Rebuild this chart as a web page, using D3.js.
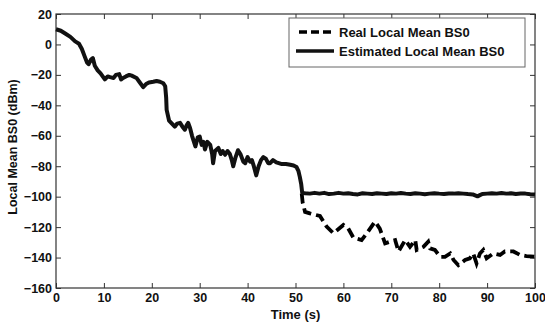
<!DOCTYPE html>
<html>
<head>
<meta charset="utf-8">
<script src="https://cdn.jsdelivr.net/npm/d3@7"></script>
<style>
  body { margin: 0; background: #fff; }
  text { font-family: "Liberation Sans", Arial, sans-serif; font-weight: bold; fill: #111; }
</style>
</head>
<body>
<div id="chart"></div>
<script>
// estimated local mean (solid)
const estT = [0, 1, 2, 3, 4, 4.8, 5.4, 6, 6.5, 6.8, 7.3, 7.7, 8.1, 8.7, 9.3, 10.2, 10.8, 11.3, 12, 12.5,
  13.2, 13.6, 14, 14.6, 15.3, 15.8, 16.8, 17.5, 18.2, 18.8, 19.4, 20.3, 21, 21.7, 22.4, 22.8, 23, 23.1, 23.6, 24.2,
  24.8, 25.3, 25.9, 26.4, 26.9, 27.3, 27.6, 28, 28.4, 28.8, 29.1, 29.6, 30, 30.4, 30.8, 31.1, 31.6, 32.2, 32.6, 32.8,
  33.2, 33.9, 34.4, 34.8, 35.3, 35.8, 36.3, 36.7, 37, 37.5, 38, 38.5, 39.1, 39.5, 40, 40.5, 40.9, 41.3, 41.8, 42.3,
  42.8, 43.3, 43.8, 44.3, 44.7, 45.3, 46, 47, 48, 48.9, 49.6, 50.2, 50.6, 50.9, 51.2, 51.4, 52,
  53, 54, 55, 56, 57, 58, 59, 60, 61, 62, 63, 64, 65, 66, 67, 68, 69, 70, 71, 72, 73, 74, 75, 76, 77, 78, 79, 80,
  81, 82, 83, 84, 85, 86, 87, 88, 88.5, 89, 90, 91, 92, 93, 94, 95, 96, 97, 98, 99, 100];
const estV = [10, 9, 7, 5, 2, 0.5, -3, -8, -12, -13, -10, -9, -14, -17, -19, -23, -21, -21.5, -22, -20,
  -19.5, -23, -22, -21, -20, -20.5, -22, -25, -28, -26, -25, -24.5, -24, -24.5, -25.5, -27.5, -35, -43, -50, -52,
  -54, -52, -51.5, -54, -56, -53, -51.5, -55, -60, -64, -67, -61, -60.5, -66, -64, -69, -64, -66, -72, -78,
  -70, -68, -72, -70, -72.5, -70, -72, -76, -80, -74, -69.5, -72, -77, -78, -74, -77, -76, -80, -86, -80,
  -76, -74, -75, -78, -78, -76, -77.5, -78.5, -78.5, -79, -79.5, -80.5, -83, -87, -92, -97.5, -97.8,
  -98, -97.5, -98, -97.5, -98.3, -98, -97.5, -98, -97.8, -98.3, -98.5, -97.8, -98, -98.2, -97.7, -98, -98.3, -97.8, -98, -97.6, -98, -98.2, -97.8, -98, -98.4, -98, -97.7, -98,
  -98.2, -97.9, -98, -97.7, -98, -98.3, -98.5, -99.8, -99, -98.2, -98, -97.8, -98, -97.6, -98, -97.8, -98.2, -97.9, -98, -98.4, -98.6];

// real local mean (dashed)
const realT = [51.3, 51.5, 52, 53, 55.1, 56.5, 57.9, 60, 61, 62.1, 63.8, 64.9, 66.6, 67.6, 68.7, 69.7, 70.8, 71.5, 72.9, 73.9,
  75, 75.3, 76.7, 77.7, 78.1, 79.1, 80.2, 81.2, 82.3, 83, 84, 85.4, 86.4, 87.1, 87.8, 88.5, 89.2, 89.9, 91.3, 92.7,
  93.7, 95.5, 96.9, 98.2, 100];
const realV = [-98, -104, -110, -111, -112.7, -119.7, -124, -118.6, -120.8, -127, -128.5, -124, -116.4, -121, -130.7, -129.6, -128.5, -136, -128.5, -133,
  -128.5, -135, -133, -129.6, -134, -135, -139.5, -139.5, -137.3, -141.6, -145, -141.6, -140.5, -137.3, -143.8, -137.3, -135, -140.5, -137.3, -138.3,
  -136, -136, -138.3, -139, -139.5];

const xTicks = [0, 10, 20, 30, 40, 50, 60, 70, 80, 90, 100];
const yTicks = [20, 0, -20, -40, -60, -80, -100, -120, -140, -160];
const legendLabels = ["Real Local Mean BS0", "Estimated Local Mean BS0"];

const W = 545, H = 327;
const pl = 56, pr = 535, pt = 14, pb = 288;

const svg = d3.select("#chart").append("svg").attr("width", W).attr("height", H);

const x = d3.scaleLinear().domain([0, 100]).range([pl, pr]);
const y = d3.scaleLinear().domain([-160, 20]).range([pb, pt]);

// axes (ticks inward on all four sides)
const axisColor = "#333";
function styleAxis(g) {
  g.select(".domain").remove();
  g.selectAll(".tick line").attr("stroke", axisColor).attr("stroke-width", 1);
  g.selectAll(".tick text").style("font-size", "12.5px").attr("fill", "#111");
}

svg.append("g").attr("transform", `translate(0,${pb})`)
  .call(d3.axisBottom(x).tickValues(xTicks).tickSizeInner(-5).tickSizeOuter(0).tickPadding(5))
  .call(styleAxis);
svg.append("g").attr("transform", `translate(${pl},0)`)
  .call(d3.axisLeft(y).tickValues(yTicks).tickSizeInner(-5).tickSizeOuter(0).tickPadding(4))
  .call(styleAxis);
svg.append("g").attr("transform", `translate(0,${pt})`)
  .call(d3.axisTop(x).tickValues(xTicks).tickSizeInner(-5).tickSizeOuter(0).tickFormat(""))
  .call(styleAxis);
svg.append("g").attr("transform", `translate(${pr},0)`)
  .call(d3.axisRight(y).tickValues(yTicks).tickSizeInner(-5).tickSizeOuter(0).tickFormat(""))
  .call(styleAxis);

svg.append("rect")
  .attr("x", pl).attr("y", pt)
  .attr("width", pr - pl).attr("height", pb - pt)
  .attr("fill", "none").attr("stroke", axisColor).attr("stroke-width", 1.2);

// lines
const line = d3.line().x(d => x(d[0])).y(d => y(d[1]));
const realData = realT.map((t, i) => [t, realV[i]]);
const estData = estT.map((t, i) => [t, estV[i]]);

svg.append("path").datum(realData)
  .attr("d", line)
  .attr("fill", "none").attr("stroke", "#000").attr("stroke-width", 3.8)
  .attr("stroke-dasharray", "10,5");

svg.append("path").datum(estData)
  .attr("d", line)
  .attr("fill", "none").attr("stroke", "#111").attr("stroke-width", 4)
  .attr("stroke-linejoin", "round");

// axis labels
svg.append("text")
  .attr("x", (pl + pr) / 2).attr("y", 319)
  .attr("text-anchor", "middle").style("font-size", "13px")
  .text("Time (s)");

svg.append("text")
  .attr("transform", `translate(17,147) rotate(-90)`)
  .attr("text-anchor", "middle").style("font-size", "12.5px")
  .text("Local Mean BS0 (dBm)");

// legend
const lg = svg.append("g");
lg.append("rect")
  .attr("x", 289).attr("y", 18).attr("width", 236).attr("height", 49)
  .attr("fill", "#fff").attr("stroke", "#666").attr("stroke-width", 1);
lg.append("line")
  .attr("x1", 299).attr("x2", 334).attr("y1", 32).attr("y2", 32)
  .attr("stroke", "#000").attr("stroke-width", 3.5).attr("stroke-dasharray", "8,4");
lg.append("line")
  .attr("x1", 296).attr("x2", 334).attr("y1", 51).attr("y2", 51)
  .attr("stroke", "#111").attr("stroke-width", 3.5);
lg.selectAll("text.lab").data(legendLabels).join("text")
  .attr("class", "lab")
  .attr("x", 339).attr("y", (d, i) => 37 + i * 19)
  .style("font-size", "13px")
  .text(d => d);
</script>
</body>
</html>
